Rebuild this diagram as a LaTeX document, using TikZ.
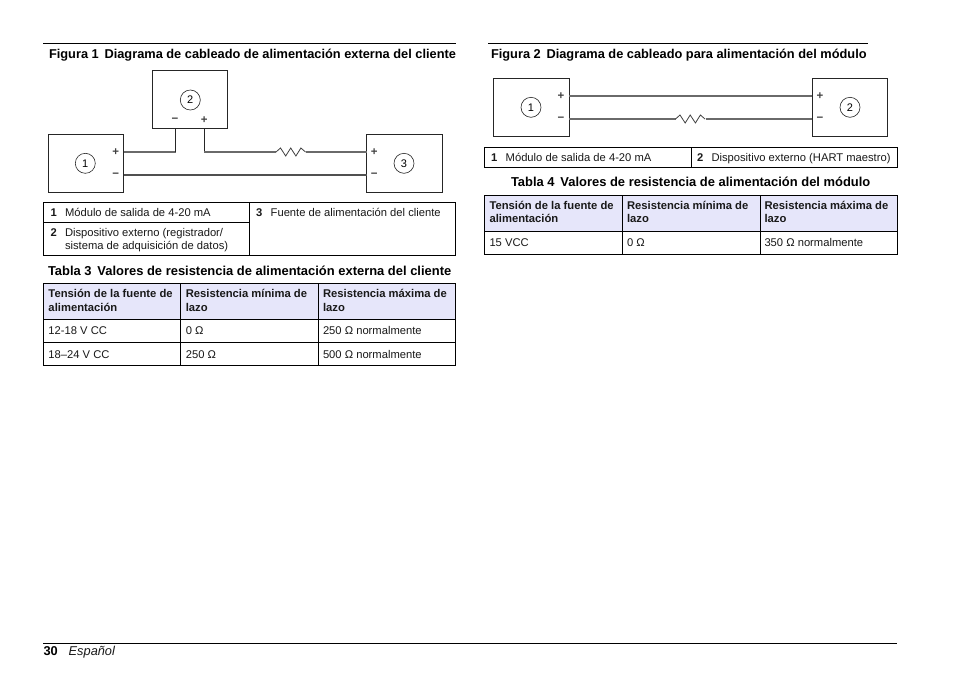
\documentclass[tikz,border=0pt]{standalone}
\usepackage{fontspec}
\setmainfont{Liberation Sans}
\definecolor{headfill}{HTML}{E6E6FA}
\definecolor{wire}{HTML}{6A6A6A}
\definecolor{wiredark}{HTML}{505050}
\tikzset{
  x=1pt,y=-1pt,
  txt/.style={anchor=base west,inner sep=0pt,outer sep=0pt,font=\fontsize{11.2}{13}\selectfont,text=black!90},
  boldt/.style={txt,font=\fontsize{11.2}{13}\selectfont\bfseries},
  headt/.style={txt,font=\fontsize{11.25}{13}\selectfont\bfseries},
  title/.style={txt,font=\fontsize{12.8}{15}\selectfont\bfseries,text=black},
  tabtitle/.style={txt,font=\fontsize{12.94}{15}\selectfont\bfseries,text=black},
  devbox/.style={draw=black!85,line width=0.8pt,fill=white,minimum width=75.4pt,minimum height=58.2pt,inner sep=0pt,outer sep=0pt},
  numc/.style={draw=black!85,line width=0.6pt,circle,minimum size=20pt,inner sep=0pt,font=\fontsize{11}{13}\selectfont},
  pol/.style={inner sep=0pt,outer sep=0pt,font=\fontsize{11.5}{13}\selectfont\bfseries,text=black!75},
  wireline/.style={draw=wire,line width=1.6pt},
  wirelow/.style={draw=wiredark,line width=1.3pt},
  zig/.style={draw=black!75,line width=0.8pt,line join=miter},
  stub/.style={draw=black!85,line width=0.9pt},
  rule/.style={draw=black,line width=0.8pt},
  grid/.style={draw=black,line width=0.8pt},
}
\begin{document}
\begin{tikzpicture}
\useasboundingbox[fill=white] (0,0) rectangle (954,673);

% Figure 1
\coordinate (r1a) at (43.3,43.5); \coordinate (r1b) at (456,43.5);
\draw[rule] (r1a) -- (r1b);
\node[title] (t1) at (49,58) {Figura 1\hspace{0.45em}Diagrama de cableado de alimentación externa del cliente};
\node[devbox] (a2) at (190,99.3) {};
\node[devbox] (a1) at (85.8,163.3) {};
\node[devbox] (a3) at (404.2,163.3) {};
\node[numc] (ca1) at (85.3,163.3) {1};
\node[numc] (ca2) at (190.3,100) {2};
\node[numc] (ca3) at (404,163.3) {3};
\node[pol] (pa1p) at (115.7,151.7) {+};
\node[pol] (pa1m) at (115.7,175) {−};
\node[pol] (pa2m) at (175,120.3) {−};
\node[pol] (pa2p) at (204.3,120.3) {+};
\node[pol] (pa3p) at (374.3,151.7) {+};
\node[pol] (pa3m) at (374.3,175) {−};
\coordinate (a1p) at (a1.east |- 0,152);
\coordinate (a1m) at (a1.east |- 0,175);
\coordinate (a3p) at (a3.west |- 0,152);
\coordinate (a3m) at (a3.west |- 0,175);
\coordinate (a2m) at (175.7,128.4);
\coordinate (a2p) at (204.3,128.4);
\coordinate (ra) at (276,152);
\coordinate (rb) at (306,152);
\draw[wireline] (a1p) -- (a2m |- a1p);
\draw[stub] (a2m |- a1p) -- (a2m);
\draw[stub] (a2p) -- (a2p |- a1p);
\draw[wireline] (a2p |- a1p) -- (ra);
\draw[wireline] (rb) -- (a3p);
\draw[wirelow] (a1m) -- (a3m);
\draw[zig] (ra) -- ++(4.5,-4) -- ++(5.2,8) -- ++(5,-8) -- ++(5.2,8) -- ++(5,-8) -- ++(4.6,4);

% Legend 1
\draw[grid] (43.3,202.7) rectangle (455.7,255.3);
\draw[grid] (249.3,202.7) -- (249.3,255.3);
\draw[grid] (43.3,222.3) -- (249.3,222.3);
\node[boldt] (l1n) at (50.5,216.3) {1};
\node[txt] (l1t) at (65,216.3) {Módulo de salida de 4-20 mA};
\node[boldt] (l3n) at (256,216.3) {3};
\node[txt] (l3t) at (270.7,216.3) {Fuente de alimentación del cliente};
\node[boldt] (l2n) at (50.5,236.7) {2};
\node[txt] (l2t) at (65,236.7) {Dispositivo externo (registrador/};
\node[txt] (l2u) at (65,249) {sistema de adquisición de datos)};

% Table 3
\node[tabtitle] (t3) at (48,275) {Tabla 3\hspace{0.45em}Valores de resistencia de alimentación externa del cliente};
\fill[headfill] (43.3,283.7) rectangle (455.7,319.3);
\draw[grid] (43.3,283.7) rectangle (455.7,365.7);
\draw[grid] (43.3,319.3) -- (455.7,319.3);
\draw[grid] (43.3,342.5) -- (455.7,342.5);
\draw[grid] (180.3,283.7) -- (180.3,365.7);
\draw[grid] (318,283.7) -- (318,365.7);
\node[headt] (h31) at (48.5,297.7) {Tensión de la fuente de};
\node[headt] (h31b) at (48.5,311.2) {alimentación};
\node[headt] (h32) at (185.8,297.7) {Resistencia mínima de};
\node[headt] (h32b) at (185.8,311.2) {lazo};
\node[headt] (h33) at (323,297.7) {Resistencia máxima de};
\node[headt] (h33b) at (323,311.2) {lazo};
\node[txt] (c311) at (48.5,334) {12-18 V CC};
\node[txt] (c312) at (185.8,334) {0 Ω};
\node[txt] (c313) at (323,334) {250 Ω normalmente};
\node[txt] (c321) at (48.5,358) {18–24 V CC};
\node[txt] (c322) at (185.8,358) {250 Ω};
\node[txt] (c323) at (323,358) {500 Ω normalmente};

% Figure 2
\coordinate (r2a) at (488,43.5); \coordinate (r2b) at (868,43.5);
\draw[rule] (r2a) -- (r2b);
\node[title] (t2) at (491,58) {Figura 2\hspace{0.45em}Diagrama de cableado para alimentación del módulo};
\node[devbox] (b1) at (531.3,107.5) {};
\node[devbox] (b2) at (850,107.5) {};
\node[numc] (cb1) at (531,107.3) {1};
\node[numc] (cb2) at (850,107.3) {2};
\node[pol] (pb1p) at (561,96) {+};
\node[pol] (pb1m) at (561,119) {−};
\node[pol] (pb2p) at (820,96) {+};
\node[pol] (pb2m) at (820,119) {−};
\coordinate (b1p) at (b1.east |- 0,96);
\coordinate (b1m) at (b1.east |- 0,119);
\coordinate (b2p) at (b2.west |- 0,96);
\coordinate (b2m) at (b2.west |- 0,119);
\coordinate (sa) at (675.5,119);
\coordinate (sb) at (705.5,119);
\draw[wireline] (b1p) -- (b2p);
\draw[wireline] (b1m) -- (sa);
\draw[wireline] (sb) -- (b2m);
\draw[zig] (sa) -- ++(4.5,-4) -- ++(5.2,8) -- ++(5,-8) -- ++(5.2,8) -- ++(5,-8) -- ++(4.6,4);

% Legend 2
\draw[grid] (484.3,147.3) rectangle (897,167.7);
\draw[grid] (691.7,147.3) -- (691.7,167.7);
\node[boldt] (m1n) at (491,161.2) {1};
\node[txt] (m1t) at (505.7,161.2) {Módulo de salida de 4-20 mA};
\node[boldt] (m2n) at (697,161.2) {2};
\node[txt] (m2t) at (711.5,161.2) {Dispositivo externo (HART maestro)};

% Table 4
\node[tabtitle] (t4) at (511,186.5) {Tabla 4\hspace{0.45em}Valores de resistencia de alimentación del módulo};
\fill[headfill] (484.3,195) rectangle (897,231);
\draw[grid] (484.3,195) rectangle (897,254.3);
\draw[grid] (484.3,231) -- (897,231);
\draw[grid] (622.3,195) -- (622.3,254.3);
\draw[grid] (760,195) -- (760,254.3);
\node[headt] (h41) at (489.5,209.2) {Tensión de la fuente de};
\node[headt] (h41b) at (489.5,222.7) {alimentación};
\node[headt] (h42) at (627,209.2) {Resistencia mínima de};
\node[headt] (h42b) at (627,222.7) {lazo};
\node[headt] (h43) at (764.5,209.2) {Resistencia máxima de};
\node[headt] (h43b) at (764.5,222.7) {lazo};
\node[txt] (c411) at (489.5,246) {15 VCC};
\node[txt] (c412) at (627,246) {0 Ω};
\node[txt] (c413) at (764.5,246) {350 Ω normalmente};

% Footer
\coordinate (fa) at (43.3,643.7); \coordinate (fb) at (897,643.7);
\draw[rule] (fa) -- (fb);
\node[txt,font=\fontsize{12.8}{15}\selectfont\bfseries,text=black] (pg) at (43.5,655.6) {30};
\node[txt,font=\fontsize{12.8}{15}\selectfont\itshape] (lang) at (68.7,655.6) {Español};
\end{tikzpicture}
\end{document}
